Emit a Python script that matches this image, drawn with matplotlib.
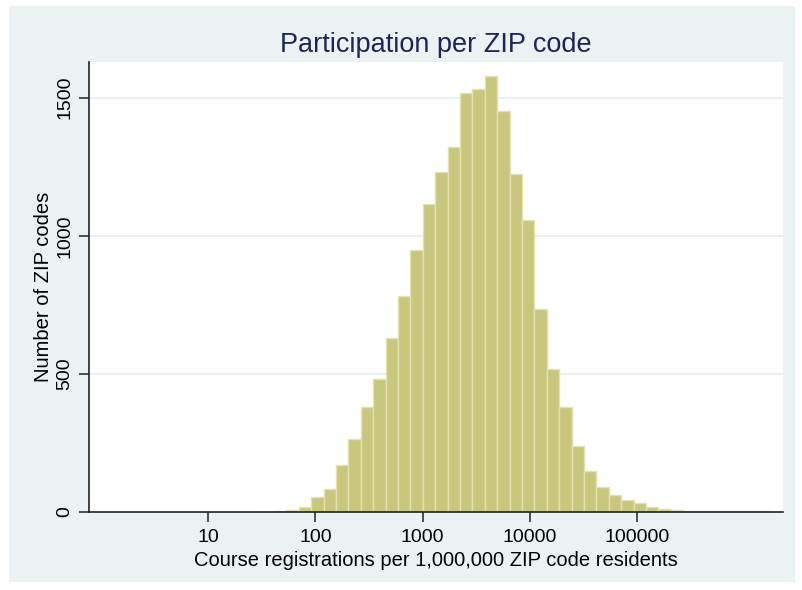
"""
plot.py - Histogram of course registrations per ZIP code (log x axis).
"""
import numpy as np
import matplotlib.pyplot as plt
from matplotlib.patches import Rectangle

plt.rcParams['font.family'] = ['Liberation Sans', 'DejaVu Sans']

# histogram bins are equal-width in log10 space
log_start = 1.50
log_bin_width = 0.1156
counts = [1, 2, 7, 18, 56, 82, 171, 264, 380, 481,
          631, 782, 950, 1115, 1232, 1320, 1515, 1533, 1580, 1452,
          1222, 1057, 735, 517, 379, 240, 150, 92, 63, 45,
          31, 17, 10, 7, 5, 4, 3, 3, 2, 2,
          2, 1]
x_ticks = [10, 100, 1000, 10000, 100000]
x_tick_labels = ["10", "100", "1000", "10000", "100000"]
y_ticks = [0, 500, 1000, 1500]

edges = 10 ** (log_start + log_bin_width * np.arange(len(counts) + 1))

W, H = 803, 590
fig = plt.figure(figsize=(W / 100, H / 100), dpi=100, facecolor="white")
fig.patches.append(Rectangle((9 / W, 8 / H), (W - 17) / W, (H - 14) / H,
                             transform=fig.transFigure, facecolor="#eaf2f3",
                             edgecolor="none", zorder=-10))

ax = fig.add_axes([89 / W, (H - 512) / H, (783 - 89) / W, (512 - 62) / H])
ax.set_facecolor("white")

ax.set_xscale("log")
ax.bar(edges[:-1], counts, width=np.diff(edges), align="edge",
       color="#c9c67e", edgecolor="#e3e3b0", linewidth=1.0, zorder=2)

for y in y_ticks[1:]:
    ax.axhline(y, color="#e6eff0", linewidth=1.2, zorder=1)

ax.set_xlim(10 ** -0.11, 10 ** 6.36)
ax.set_ylim(0, 1629)

ax.set_xticks(x_ticks)
ax.set_xticklabels(x_tick_labels)
ax.xaxis.set_minor_locator(plt.NullLocator())
ax.set_yticks(y_ticks)
ax.set_yticklabels([str(v) for v in y_ticks], rotation=90, va="center")

ax.tick_params(axis="both", direction="out", length=7, width=1.1,
               color="#222222", labelsize=14)
ax.tick_params(axis="x", pad=5)
ax.tick_params(axis="y", pad=4)
for side in ("top", "right"):
    ax.spines[side].set_visible(False)
for side in ("left", "bottom"):
    ax.spines[side].set_color("#222222")
    ax.spines[side].set_linewidth(1.2)

ax.set_xlabel("Course registrations per 1,000,000 ZIP code residents",
              fontsize=14.5, labelpad=4)
ax.set_ylabel("Number of ZIP codes", fontsize=14.5, labelpad=3)
ax.set_title("Participation per ZIP code", fontsize=19.5, color="#1e2456", pad=7)

fig.savefig("out.png", dpi=100, facecolor=fig.get_facecolor())
plt.close(fig)
